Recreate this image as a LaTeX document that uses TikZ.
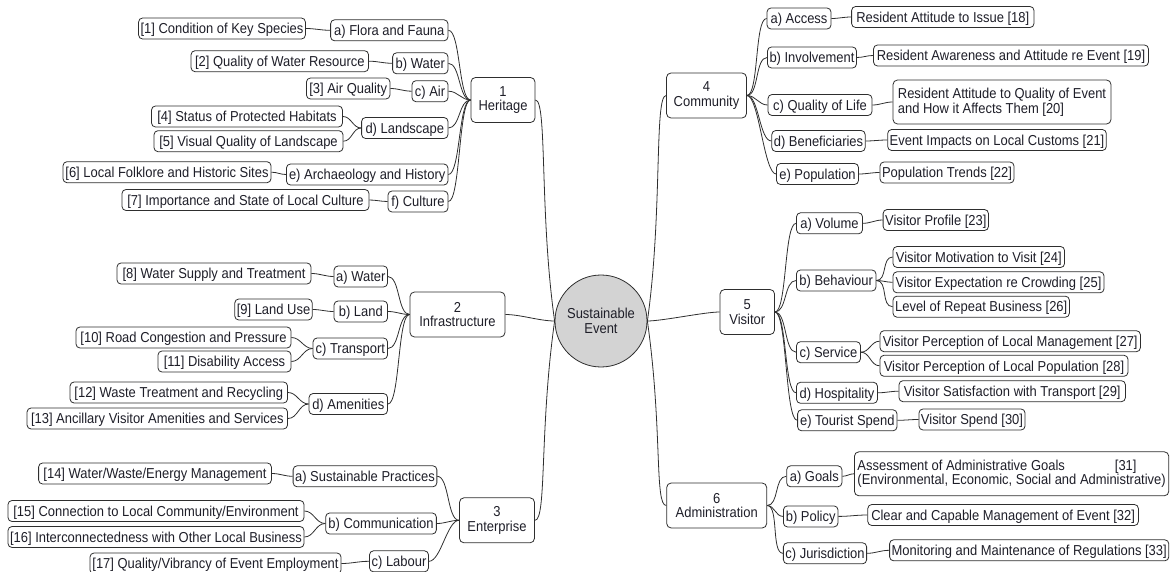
\documentclass[tikz,border=0pt]{standalone}
\usepackage{fontspec}
\setmainfont{Liberation Sans}[FakeStretch=0.9]
\definecolor{ln}{HTML}{2E2E2E}
\definecolor{tx}{HTML}{1E1E28}
\definecolor{hubfill}{HTML}{D3D3D3}
\newcommand\Bx[5]{\node[bx,minimum width=#4pt] (#1) at (#2,-#3) {#5};}
\newcommand\Mb[5]{\node[mb,minimum width=#4pt] (#1) at (#2,-#3) {#5};}
\begin{document}
\begin{tikzpicture}[x=1pt,y=1pt,
  every node/.style={font=\fontsize{14.4}{14.6}\selectfont, text=tx},
  bx/.style={draw=ln, line width=0.8pt, rounded corners=4pt, inner xsep=2pt, inner ysep=0pt, minimum height=21pt, text height=10.4pt, text depth=0pt},
  mb/.style={draw=ln, line width=0.8pt, rounded corners=4.5pt, inner xsep=2pt, inner ysep=2pt, minimum height=45pt, align=center},
  cn/.style={draw=ln, line width=0.8pt},
  lk/.style={out=0,in=180,max distance=12pt}]
\useasboundingbox (0,0) rectangle (1176,-572);

% hub
\node[circle, draw=ln, line width=0.8pt, fill=hubfill, minimum size=92pt, inner sep=0pt, align=center] (hub) at (601,-321) {Sustainable\\Event};

% Heritage
\Bx{h1}{222}{28.5}{166}{[1] Condition of Key Species}
\Bx{ha}{389.3}{30.3}{117.4}{a) Flora and Fauna}
\Bx{h2}{279.8}{61.2}{177.5}{[2] Quality of Water Resource}
\Bx{hb}{420.3}{63.3}{55.4}{b) Water}
\Bx{h3}{348.2}{88.5}{83.5}{[3] Air Quality}
\Bx{hc}{430}{91.2}{36}{c) Air}
\Bx{h4}{247}{116.5}{191}{[4] Status of Protected Habitats}
\Bx{h5}{248.5}{141.2}{189}{[5] Visual Quality of Landscape}
\Bx{hd}{404.8}{128}{86.4}{d) Landscape}
\Bx{h6}{167}{172.2}{208}{[6] Local Folklore and Historic Sites}
\Bx{he}{367.2}{174.5}{161.5}{e) Archaeology and History}
\Bx{h7}{245.5}{200}{247}{[7] Importance and State of Local Culture}
\Bx{hf}{418}{201.5}{60}{f) Culture}
\Mb{H}{503}{100}{64}{1\\Heritage}

% Infrastructure
\Bx{i8}{214}{273.5}{194}{[8] Water Supply and Treatment}
\Bx{ia}{360.8}{276.5}{53.5}{a) Water}
\Bx{i9}{273.5}{309.5}{75}{[9] Land Use}
\Bx{ib}{360.8}{311.5}{53.5}{b) Land}
\Bx{i10}{183.5}{337.5}{215}{[10] Road Congestion and Pressure}
\Bx{i11}{224.5}{361.5}{133}{[11] Disability Access}
\Bx{ic}{350.3}{348.5}{74.5}{c) Transport}
\Bx{i12}{178.8}{392.5}{217.5}{[12] Waste Treatment and Recycling}
\Bx{i13}{157.3}{418.5}{260.5}{[13] Ancillary Visitor Amenities and Services}
\Bx{id}{348.3}{404}{78.5}{d) Amenities}
\Mb{I}{457.5}{314.5}{95}{2\\Infrastructure}

% Enterprise
\Bx{e14}{155}{473.5}{232.8}{[14] Water/Waste/Energy Management}
\Bx{ea}{365}{476.3}{142.8}{a) Sustainable Practices}
\Bx{e15}{156}{511}{296}{[15] Connection to Local Community/Environment}
\Bx{e16}{156}{537}{296}{[16] Interconnectedness with Other Local Business}
\Bx{eb}{381}{523.5}{110.7}{b) Communication}
\Bx{e17}{215.5}{563.5}{251}{[17] Quality/Vibrancy of Event Employment}
\Bx{ec}{399}{561.3}{59}{c) Labour}
\Mb{E}{497}{520.3}{75}{3\\Enterprise}

% Community
\Mb{C}{706.5}{95.5}{80}{4\\Community}
\Bx{ca}{799}{18.5}{64}{a) Access}
\Bx{c18}{942.8}{17}{182.4}{Resident Attitude to Issue [18]}
\Bx{cb}{812}{57.5}{88}{b) Involvement}
\Bx{c19}{1011}{55.5}{275}{Resident Awareness and Attitude re Event [19]}
\Bx{cc}{820}{105}{104}{c) Quality of Life}
\node[mb, align=left, minimum width=218pt, minimum height=44pt] (c20) at (1002,-102) {Resident Attitude to Quality of Event\\and How it Affects Them [20]};
\Bx{cd}{818.5}{141}{92}{d) Beneficiaries}
\Bx{c21}{997}{140}{218}{Event Impacts on Local Customs [21]}
\Bx{ce}{817.5}{174}{82}{e) Population}
\Bx{c22}{947}{172.5}{134}{Population Trends [22]}

% Visitor
\Mb{V}{747.3}{312}{54.5}{5\\Visitor}
\Bx{va}{829.5}{223.3}{66}{a) Volume}
\Bx{v23}{935.8}{220}{104.4}{Visitor Profile [23]}
\Bx{vb}{836.2}{280.5}{79.6}{b) Behaviour}
\Bx{v24}{978.8}{257}{171.5}{Visitor Motivation to Visit [24]}
\Bx{v25}{998.5}{282.3}{211}{Visitor Expectation re Crowding [25]}
\Bx{v26}{981.2}{306.7}{176.4}{Level of Repeat Business [26]}
\Bx{vc}{828.5}{352.2}{64}{c) Service}
\Bx{v27}{1010.2}{341.2}{260.4}{Visitor Perception of Local Management [27]}
\Bx{v28}{1004}{365.8}{248}{Visitor Perception of Local Population [28]}
\Bx{vd}{837}{392.8}{81}{d) Hospitality}
\Bx{v29}{1012.2}{391.2}{226.4}{Visitor Satisfaction with Transport [29]}
\Bx{ve}{847.3}{420.3}{99.4}{e) Tourist Spend}
\Bx{v30}{972}{419.5}{105.5}{Visitor Spend [30]}

% Administration
\Mb{A}{716.7}{505.5}{100}{6\\Administration}
\Bx{aa}{814.3}{476.3}{55.3}{a) Goals}
\node[mb, align=left, minimum width=314.4pt, minimum height=44pt] (a31) at (1011.6,-473.8) {Assessment of Administrative Goals\hspace{50pt}[31]\\(Environmental, Economic, Social and Administrative)};
\Bx{ab}{810.7}{516.4}{54.6}{b) Policy}
\Bx{a32}{1003.1}{515}{270.6}{Clear and Capable Management of Event [32]}
\Bx{ac}{825}{553.3}{83.2}{c) Jurisdiction}
\Bx{a33}{1029.2}{550.3}{279.1}{Monitoring and Maintenance of Regulations [33]}

% ---- connectors: hub
\draw[cn] (H.east) to[out=0,in=98,out distance=12pt,in distance=110pt] (hub.west);
\draw[cn] (I.east) to[out=0,in=180,max distance=15pt] (hub.west);
\draw[cn] (E.east) to[out=0,in=-98,out distance=12pt,in distance=110pt] (hub.west);
\draw[cn] (hub.east) to[out=82,in=180,out distance=110pt,in distance=12pt] (C.west);
\draw[cn] (hub.east) to[out=0,in=180,max distance=15pt] (V.west);
\draw[cn] (hub.east) to[out=-82,in=180,out distance=110pt,in distance=12pt] (A.west);

% Heritage
\foreach \s in {ha,hb,hc,hd,he,hf} \draw[cn] (\s.east) to[lk] (H.west);
\draw[cn] (h1.east) to[lk] (ha.west);
\draw[cn] (h2.east) to[lk] (hb.west);
\draw[cn] (h3.east) to[lk] (hc.west);
\draw[cn] (h4.east) to[lk] (hd.west);
\draw[cn] (h5.east) to[lk] (hd.west);
\draw[cn] (h6.east) to[lk] (he.west);
\draw[cn] (h7.east) to[lk] (hf.west);

% Infrastructure
\foreach \s in {ia,ib,ic,id} \draw[cn] (\s.east) to[lk] (I.west);
\draw[cn] (i8.east) to[lk] (ia.west);
\draw[cn] (i9.east) to[lk] (ib.west);
\draw[cn] (i10.east) to[lk] (ic.west);
\draw[cn] (i11.east) to[lk] (ic.west);
\draw[cn] (i12.east) to[lk] (id.west);
\draw[cn] (i13.east) to[lk] (id.west);

% Enterprise
\foreach \s in {ea,eb,ec} \draw[cn] (\s.east) to[lk] (E.west);
\draw[cn] (e14.east) to[lk] (ea.west);
\draw[cn] (e15.east) to[lk] (eb.west);
\draw[cn] (e16.east) to[lk] (eb.west);
\draw[cn] (e17.east) to[lk] (ec.west);

% Community
\foreach \s in {ca,cb,cc,cd,ce} \draw[cn] (C.east) to[lk] (\s.west);
\draw[cn] (ca.east) to[lk] (c18.west);
\draw[cn] (cb.east) to[lk] (c19.west);
\draw[cn] (cc.east) to[lk] (c20.west);
\draw[cn] (cd.east) to[lk] (c21.west);
\draw[cn] (ce.east) to[lk] (c22.west);

% Visitor
\foreach \s in {va,vb,vc,vd,ve} \draw[cn] (V.east) to[lk] (\s.west);
\draw[cn] (va.east) to[lk] (v23.west);
\draw[cn] (vb.east) to[lk] (v24.west);
\draw[cn] (vb.east) to[lk] (v25.west);
\draw[cn] (vb.east) to[lk] (v26.west);
\draw[cn] (vc.east) to[lk] (v27.west);
\draw[cn] (vc.east) to[lk] (v28.west);
\draw[cn] (vd.east) to[lk] (v29.west);
\draw[cn] (ve.east) to[lk] (v30.west);

% Administration
\foreach \s in {aa,ab,ac} \draw[cn] (A.east) to[lk] (\s.west);
\draw[cn] (aa.east) to[lk] (a31.west);
\draw[cn] (ab.east) to[lk] (a32.west);
\draw[cn] (ac.east) to[lk] (a33.west);
\end{tikzpicture}
\end{document}
